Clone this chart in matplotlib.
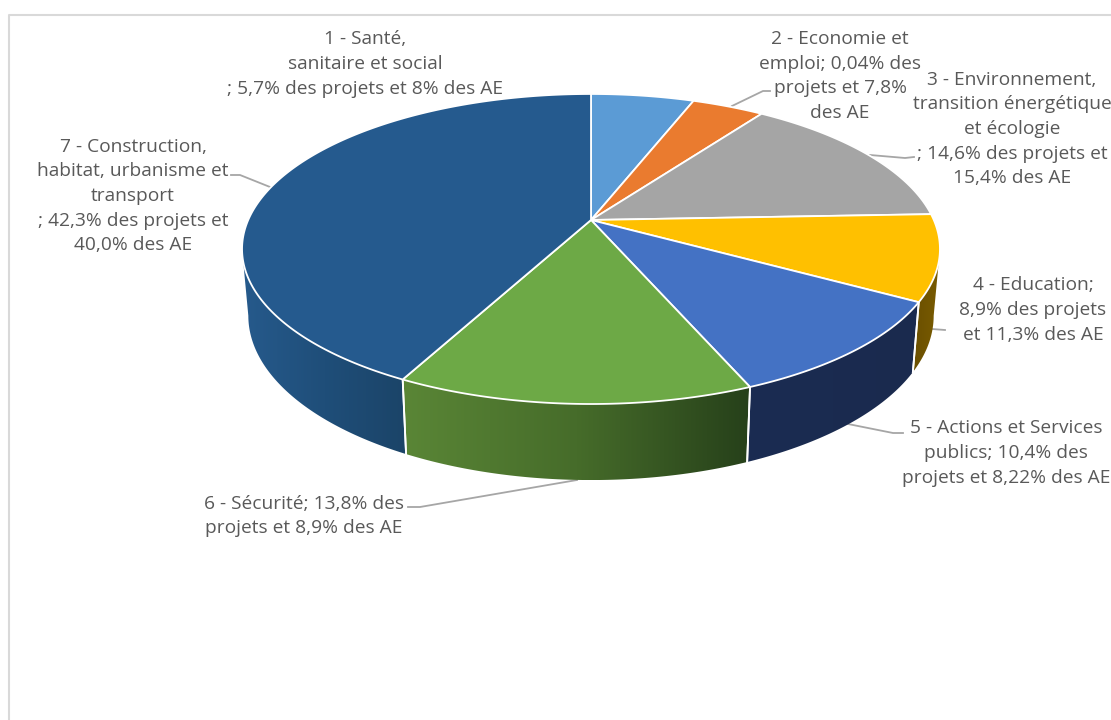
import numpy as np
import matplotlib
matplotlib.use('Agg')
import matplotlib.pyplot as plt
from matplotlib.colors import LinearSegmentedColormap
from matplotlib.patches import Polygon

plt.rcParams['font.family'] = ['Open Sans', 'DejaVu Sans']

# Part de chaque domaine dans les projets (%)
projets = [5.7, 4.0, 14.6, 8.9, 10.4, 13.8, 42.3]
etiquettes = [
    "1 - Santé,\nsanitaire et social\n; 5,7% des projets et 8% des AE",
    "2 - Economie et\nemploi; 0,04% des\nprojets et 7,8%\ndes AE",
    "3 - Environnement,\ntransition énergétique\net écologie\n; 14,6% des projets et\n15,4% des AE",
    "4 - Education;\n8,9% des projets\net 11,3% des AE",
    "5 - Actions et Services\npublics; 10,4% des\nprojets et 8,22% des AE",
    "6 - Sécurité; 13,8% des\nprojets et 8,9% des AE",
    "7 - Construction,\nhabitat, urbanisme et\ntransport\n; 42,3% des projets et\n40,0% des AE",
]
couleurs = ['#5B9BD5', '#EA7B2F', '#A5A5A5', '#FFC000', '#4472C4', '#6DA946', '#255A8E']
# Dégradés des flancs, de gauche à droite (None = pas de flanc visible)
flancs = [None, None, None,
          ['#6A4F00', '#7A5C00'],
          ['#1B2C52', '#1A2A4E'],
          ['#5A8636', '#466C2A', '#26401A'],
          ['#265A8C', '#1F4E79', '#1B4468']]
pos_etiquettes = [(365, 64), (840, 76), (1012, 129), (1033, 310), (1006, 453), (304, 516), (133, 196)]
traits = [None,
          [(770, 91), (763, 91), (732, 106)],
          [(914, 157), (905, 158), (870, 155)],
          [(945, 330), (932, 329)],
          [(903, 433), (893, 433), (848, 424)],
          [(408, 507), (420, 507), (577, 480)],
          [(231, 175), (240, 175), (270, 187)]]

# Géométrie du camembert en perspective
cx, cy = 591, 220
a, b, k = 342.8, 149.6, 0.187


def haut(t):
    d = 1 + k * np.cos(t)
    return cx + a * np.sin(t) / d, cy - b * np.cos(t) / d


def bas(t):
    x, y = haut(t)
    return cx + 0.982 * (x - cx), y + 65 + 0.06 * (y - cy)


def arc(t0, t1):
    return np.linspace(t0, t1, max(int(abs(t1 - t0) * 120), 2))


fig = plt.figure(figsize=(11.11, 7.2), dpi=100)
ax = fig.add_axes([0, 0, 1, 1])

bornes = np.concatenate([[0], np.cumsum(projets)]) / sum(projets) * 2 * np.pi
t_droite = np.arccos(-k)
t_gauche = 2 * np.pi - t_droite

# Flancs du camembert
for i, deg in enumerate(flancs):
    if deg is None:
        continue
    t0 = max(bornes[i], t_droite)
    t1 = min(bornes[i + 1], t_gauche)
    t = arc(t0, t1)
    xh, yh = haut(t)
    xb, yb = bas(t)
    pts = np.column_stack([np.r_[xh, xb[::-1]], np.r_[yh, yb[::-1]]])
    cmap = LinearSegmentedColormap.from_list('flanc', deg)
    x0, x1 = pts[:, 0].min(), pts[:, 0].max()
    y0, y1 = pts[:, 1].min(), pts[:, 1].max()
    im = ax.imshow(np.linspace(0, 1, 256).reshape(1, -1), cmap=cmap, aspect='auto',
                   extent=(x0, x1, y1, y0), zorder=2)
    poly = Polygon(pts, closed=True, transform=ax.transData)
    im.set_clip_path(poly)
    # séparations verticales entre parts
    for tv in (t0, t1):
        if tv in (t_droite, t_gauche):
            continue
        xa, ya = haut(tv)
        xc, yc = bas(tv)
        ax.plot([xa, xc], [ya, yc], color='white', lw=1.3, zorder=3)

# Face supérieure
for i, c in enumerate(couleurs):
    x, y = haut(arc(bornes[i], bornes[i + 1]))
    pts = np.column_stack([np.r_[cx, x], np.r_[cy, y]])
    ax.add_patch(Polygon(pts, closed=True, facecolor=c, edgecolor='white', lw=1.3,
                         joinstyle='round', zorder=4))

# Étiquettes et traits de rappel
for txt, (x, y) in zip(etiquettes, pos_etiquettes):
    ax.text(x, y, txt, ha='center', va='center', fontsize=13.75, color='#595959',
            linespacing=1.47, zorder=6)
for tr in traits:
    if tr is not None:
        ax.plot(*zip(*tr), color='#A6A6A6', lw=1.3, zorder=1)

# Cadre du graphique
ax.plot([8.5, 8.5, 1111], [720, 14.5, 14.5], color='#D9D9D9', lw=1.5, zorder=0)

ax.set_xlim(0, 1111)
ax.set_ylim(720, 0)
ax.axis('off')
fig.savefig('out.png', dpi=100)
